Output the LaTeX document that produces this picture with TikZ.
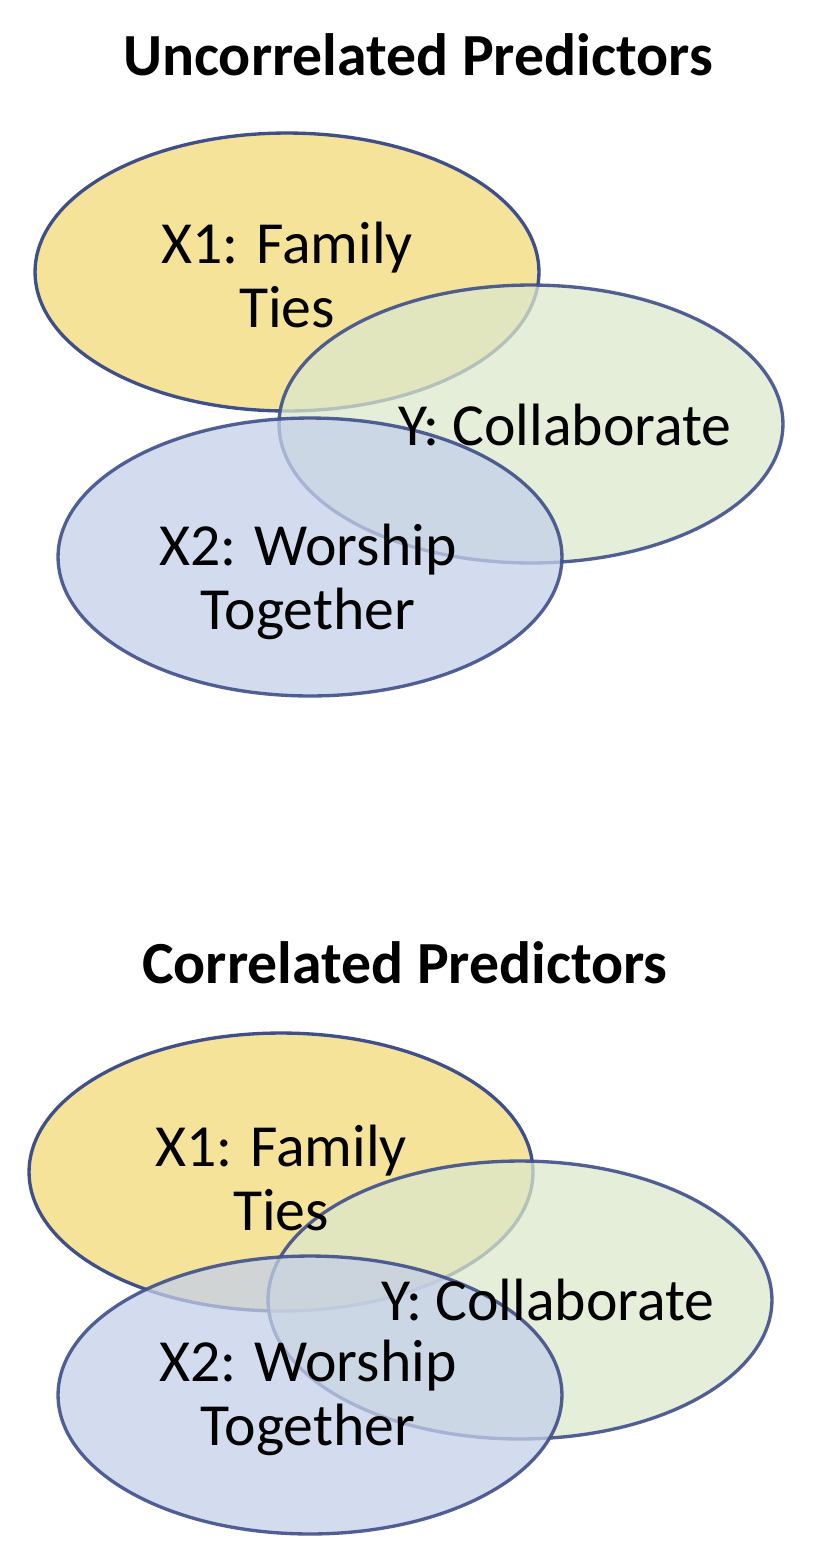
\documentclass[tikz,border=0pt]{standalone}
\usepackage{fontspec}
\setmainfont{Carlito}
\usetikzlibrary{shapes.geometric}
\definecolor{rim}{HTML}{3F4F8A}
\definecolor{fxone}{HTML}{F6E39A}
\definecolor{fy}{HTML}{DCE8CC}
\definecolor{fxtwo}{HTML}{C4CFE8}
\tikzset{
  circ/.style={ellipse, draw=rim, line width=1.9pt, minimum width=10.08cm, minimum height=5.56cm},
  lbl/.style={align=center, font=\fontsize{34}{36}\selectfont},
  ttl/.style={font=\bfseries\fontsize{34}{40}\selectfont}
}
\begin{document}
\begin{tikzpicture}[x=0.02cm,y=-0.02cm]
\useasboundingbox (0,0) rectangle (817,1563);
% uncorrelated
\node[ttl] (t1) at (418,55) {Uncorrelated Predictors};
\node[circ, fill=fxone] (a1) at (287,272) {};
\node[circ, fill=fy, fill opacity=0.75, draw opacity=0.9] (b1) at (531,424) {};
\node[circ, fill=fxtwo, fill opacity=0.75, draw opacity=0.9] (c1) at (310,557) {};
\node[lbl] (la1) at (287,275) {X1: Family\\Ties};
\node[lbl] (lb1) at (565,425) {Y: Collaborate};
\node[lbl] (lc1) at (308,582) {X2: Worship\\Together};
% correlated
\node[ttl] (t2) at (405,963) {Correlated Predictors};
\node[circ, fill=fxone] (a2) at (281,1172) {};
\node[circ, fill=fy, fill opacity=0.75, draw opacity=0.9] (b2) at (520,1300) {};
\node[circ, fill=fxtwo, fill opacity=0.75, draw opacity=0.9] (c2) at (310,1395) {};
\node[lbl] (la2) at (281,1178) {X1: Family\\Ties};
\node[lbl] (lb2) at (548,1300) {Y: Collaborate};
\node[lbl] (lc2) at (308,1398) {X2: Worship\\Together};
\end{tikzpicture}
\end{document}
